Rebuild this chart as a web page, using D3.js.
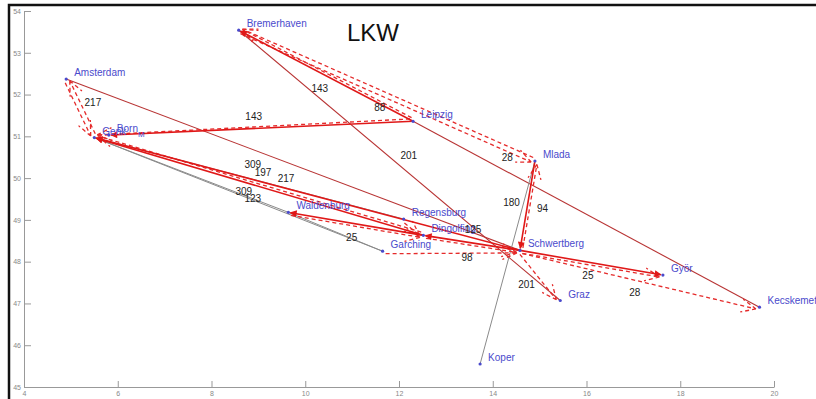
<!DOCTYPE html>
<html>
<head>
<meta charset="utf-8">
<script src="https://cdnjs.cloudflare.com/ajax/libs/d3/7.8.5/d3.min.js"></script>
<style>
	body{ margin: 0; background: white; }
	text{ font-family: "Liberation Sans", Arial, sans-serif; }
	.city{ fill: #4a4acc; font-size: 10px; }
	.flow{ fill: #222; font-size: 10px; text-anchor: middle; dominant-baseline: middle; }
	.axis text{ fill: #888; font-size: 7px; }
	.axis path, .axis line{ stroke: #999; }
</style>
</head>
<body>
<script>
	var width = 816, height = 399;

	// cities: name, lon, lat
	var cityNames = ["Amsterdam", "Bremerhaven", "Genk", "Born", "Leipzig", "Mlada", "Regensburg",
					"Dingolfing", "Waldenburg", "Garching", "Schwertberg", "Gyor", "Kecskemet", "Graz", "Koper"];
	var cityLon = [4.90, 8.58, 5.50, 5.81, 12.30, 14.90, 12.10, 12.52, 9.64, 11.65, 14.58, 17.63, 19.69, 15.44, 13.73];
	var cityLat = [52.37, 53.54, 50.97, 51.03, 51.36, 50.41, 49.02, 48.63, 49.18, 48.25, 48.27, 47.68, 46.91, 47.07, 45.55];
	var cityLabels = ["Amsterdam", "Bremerhaven", "Genk", "Born", "Leipzig", "Mlada", "Regensburg",
					"Dingolfing", "Waldenburg", "Garching", "Schwertberg", "Györ", "Kecskemet", "Graz", "Koper"];

	// routes: from, to, kind
	var routes = [
		["Amsterdam", "Schwertberg", "dark"],
		["Leipzig", "Kecskemet", "dark"],
		["Bremerhaven", "Graz", "dark"],
		["Koper", "Mlada", "gray"],
		["Genk", "Waldenburg", "gray"],
		["Genk", "Garching", "gray"],
		["Waldenburg", "Garching", "gray"],
		["Genk", "Regensburg", "gray"],
		["Genk", "Amsterdam", "dash"],
		["Amsterdam", "Genk", "dash"],
		["Leipzig", "Bremerhaven", "dash"],
		["Mlada", "Bremerhaven", "dash"],
		["Bremerhaven", "Mlada", "dash"],
		["Schwertberg", "Mlada", "dash"],
		["Schwertberg", "Kecskemet", "dash"],
		["Schwertberg", "Graz", "dash"],
		["Garching", "Schwertberg", "dash"],
		["Dingolfing", "Schwertberg", "dash"],
		["Regensburg", "Dingolfing", "dash"],
		["Waldenburg", "Dingolfing", "dash"],
		["Leipzig", "Genk", "dash"],
		["Schwertberg", "Gyor", "dash"],
		["Dingolfing", "Genk", "dash"],
		["Leipzig", "Bremerhaven", "red"],
		["Leipzig", "Born", "red"],
		["Schwertberg", "Genk", "red"],
		["Dingolfing", "Genk", "red"],
		["Dingolfing", "Waldenburg", "red"],
		["Mlada", "Schwertberg", "red"],
		["Schwertberg", "Gyor", "red"],
		["Schwertberg", "Dingolfing", "red"]
	];

	// volume labels: value, lon, lat
	var flowValues = ["217", "143", "143", "88", "201", "28", "180", "94", "309", "197", "217",
					"309", "123", "25", "125", "98", "201", "25", "28"];
	var flowLon = [5.47, 8.90, 10.31, 11.59, 12.21, 14.31, 14.40, 15.06, 8.88, 9.10, 9.59,
					8.69, 8.88, 10.99, 13.58, 13.45, 14.72, 16.03, 17.03];
	var flowLat = [51.80, 51.46, 52.13, 51.66, 50.53, 50.48, 49.39, 49.26, 50.31, 50.12, 49.98,
					49.66, 49.48, 48.55, 48.74, 48.09, 47.44, 47.64, 47.23];

	var title = "LKW";
	var xTicks = [4, 6, 8, 10, 12, 14, 16, 18, 20];
	var yTicks = [45, 46, 47, 48, 49, 50, 51, 52, 53, 54];

	var svg = d3.select("body").append("svg")
				.attr("width", width).attr("height", height);

	var x = d3.scaleLinear().domain([4, 20]).range([24, 774]);
	var y = d3.scaleLinear().domain([45, 54]).range([387, 11]);

	var cities = {};
	cityNames.forEach(function(n, i){
		cities[n] = {name: n, label: cityLabels[i], x: x(cityLon[i]), y: y(cityLat[i])};
	});

	// screenshot frame
	svg.append("path").attr("d", "M9,399V5H816")
		.attr("fill", "none").attr("stroke", "#111").attr("stroke-width", 2.5);

	// axes, matlab style with ticks inside
	svg.append("g").attr("class", "axis")
		.attr("transform", "translate(0," + y(45) + ")")
		.call(d3.axisBottom(x).tickValues(xTicks).tickSizeInner(-6).tickSizeOuter(0).tickPadding(4));
	svg.append("g").attr("class", "axis")
		.attr("transform", "translate(" + x(4) + ",0)")
		.call(d3.axisLeft(y).tickValues(yTicks).tickSizeInner(-7).tickSizeOuter(0).tickPadding(3));

	svg.append("defs").append("marker")
		.attr("id", "head").attr("viewBox", "0 0 10 10")
		.attr("refX", 9).attr("refY", 5)
		.attr("markerWidth", 8).attr("markerHeight", 7)
		.attr("markerUnits", "userSpaceOnUse")
		.attr("orient", "auto")
		.append("path").attr("d", "M0,0L10,5L0,10z").attr("fill", "#e01818");

	var lines = svg.append("g");

	routes.forEach(function(r){
		var a = cities[r[0]], b = cities[r[1]];
		var dx = b.x - a.x, dy = b.y - a.y;
		var len = Math.sqrt(dx*dx + dy*dy);
		var ux = dx/len, uy = dy/len;
		if (r[2] == "gray"){
			lines.append("line")
				.attr("x1", a.x).attr("y1", a.y).attr("x2", b.x).attr("y2", b.y)
				.attr("stroke", "#8a8a8a").attr("stroke-width", 1);
		}
		else if (r[2] == "dark"){
			lines.append("line")
				.attr("x1", a.x).attr("y1", a.y).attr("x2", b.x).attr("y2", b.y)
				.attr("stroke", "#b83434").attr("stroke-width", 1.1);
		}
		else if (r[2] == "red"){
			lines.append("line")
				.attr("x1", a.x).attr("y1", a.y).attr("x2", b.x - ux*2).attr("y2", b.y - uy*2)
				.attr("stroke", "#e01818").attr("stroke-width", 1.6)
				.attr("marker-end", "url(#head)");
		}
		else {
			// dashed, shifted a bit sideways, with dashed barbs at the end
			var ox = -uy*2.5, oy = ux*2.5;
			var ex = b.x - ux*3 + ox, ey = b.y - uy*3 + oy;
			var p = "M" + (a.x + ux*3 + ox) + "," + (a.y + uy*3 + oy) + "L" + ex + "," + ey;
			[0.42, -0.42].forEach(function(ang){
				var c = Math.cos(ang), s = Math.sin(ang);
				var bx = -(ux*c - uy*s), by = -(ux*s + uy*c);
				p += "M" + ex + "," + ey + "l" + (bx*16) + "," + (by*16);
			});
			lines.append("path").attr("d", p)
				.attr("fill", "none").attr("stroke", "#e52b2b")
				.attr("stroke-width", 1.3).attr("stroke-dasharray", "4,3");
		}
	});

	// city markers and names
	var cityList = cityNames.map(function(n){ return cities[n]; });

	svg.append("g").selectAll("circle").data(cityList).enter()
		.append("circle")
		.attr("cx", function(d){ return d.x; })
		.attr("cy", function(d){ return d.y; })
		.attr("r", 1.6).attr("fill", "#4a4acc");

	var names = svg.append("g").selectAll("text").data(cityList).enter()
		.append("text").attr("class", "city")
		.attr("x", function(d){ return d.x + 8; })
		.attr("y", function(d){ return d.y - 3; });
	names.append("tspan").text(function(d){ return d.label; });
	names.filter(function(d){ return d.name == "Born"; })
		.append("tspan").attr("dy", 5).style("font-size", "8px").text("M");

	svg.append("g").selectAll("text").data(flowValues).enter()
		.append("text").attr("class", "flow")
		.text(function(d){ return d; })
		.attr("x", function(d, i){ return x(flowLon[i]); })
		.attr("y", function(d, i){ return y(flowLat[i]); });

	svg.append("text").text(title)
		.attr("x", 373).attr("y", 41)
		.attr("text-anchor", "middle")
		.style("font-size", "24px").attr("fill", "#111");
</script>
</body>
</html>
